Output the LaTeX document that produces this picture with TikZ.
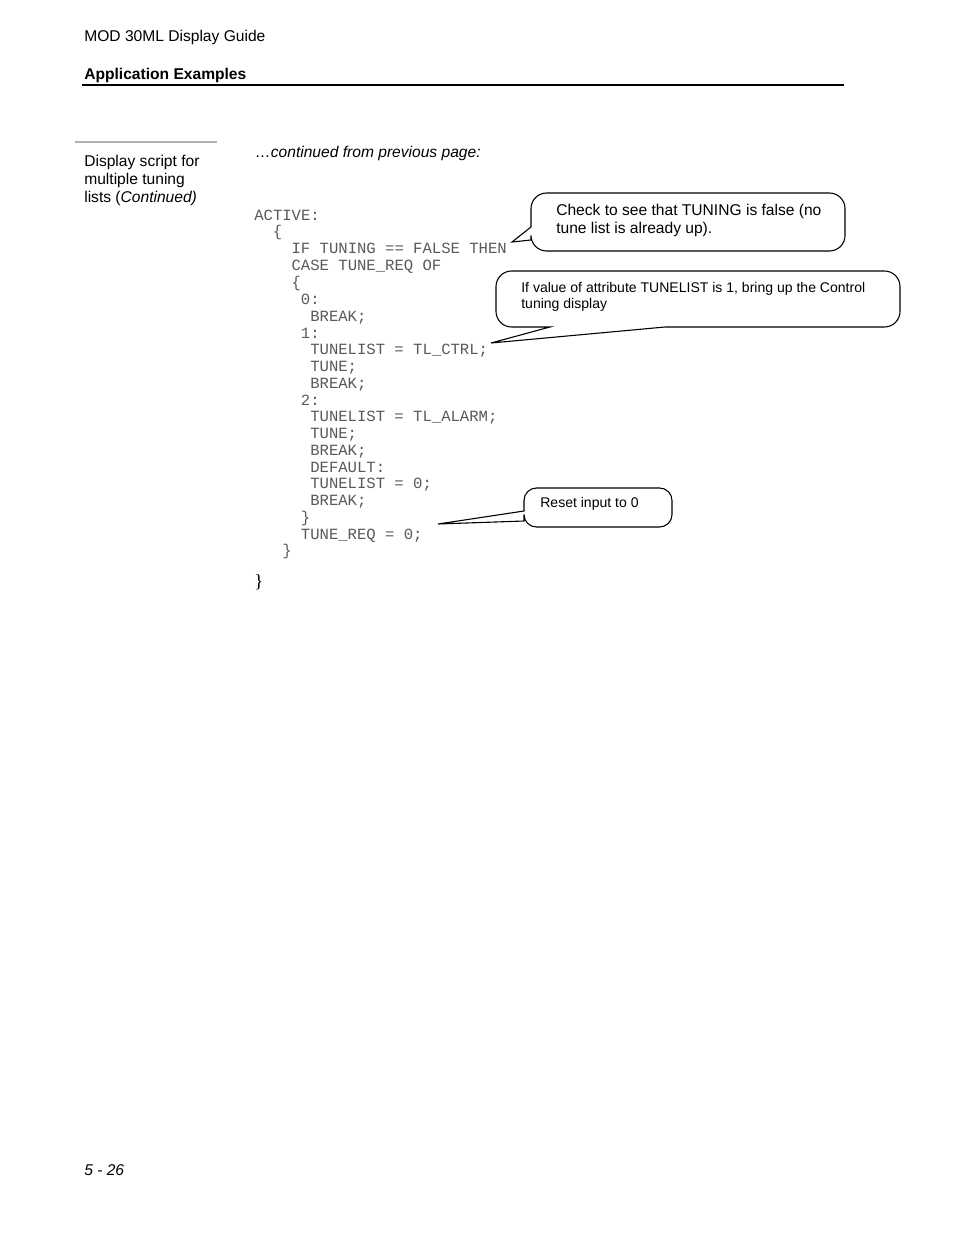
\documentclass[tikz,border=0pt]{standalone}
\usepackage{fontspec}
\setmainfont{Liberation Sans}
\newfontfamily\codefont{Liberation Mono}
\newfontfamily\serifont{Liberation Serif}
\begin{document}
\begin{tikzpicture}[x=0.64144pt,y=-0.64144pt,
  txt/.style={anchor=base west,inner sep=0pt,font=\fontsize{10}{12}\selectfont},
  small/.style={anchor=base west,inner sep=0pt,font=\fontsize{9}{11}\selectfont},
  code/.style={anchor=base west,inner sep=0pt,font=\codefont\fontsize{10}{12}\selectfont,text=black!65},
  callout/.style={draw=black,line width=0.7pt,fill=white}]
\useasboundingbox (0,0) rectangle (954,1235);
% header
\node[txt] (title) at (84,42) {MOD 30ML Display Guide};
\node[txt,font=\bfseries\fontsize{10}{12}\selectfont] (section) at (84,79) {Application Examples};
\coordinate (ruleL) at (82,85);
\coordinate (ruleR) at (844,85);
\draw[line width=1.3pt] (ruleL) -- (ruleR);
\coordinate (grayL) at (75,142);
\coordinate (grayR) at (217,142);
\draw[line width=1.2pt,black!30] (grayL) -- (grayR);
% side text
\node[txt] (side1) at (84,166) {Display script for};
\node[txt] (side2) at (84,184) {multiple tuning};
\node[txt] (side3) at (84,202) {lists (\textit{Continued)}};
\node[txt,font=\itshape\fontsize{10}{12}\selectfont] (cont) at (255,157) {…continued from previous page:};
% code
\foreach \i/\ind/\yy/\t in {
  1/0/220/{ACTIVE:},
  2/2/236.5/{\{},
  3/4/253.5/{IF TUNING == FALSE THEN},
  4/4/270.5/{CASE TUNE\_REQ OF},
  5/4/287/{\{},
  6/5/304/{0:},
  7/6/321/{BREAK;},
  8/5/338/{1:},
  9/6/354.5/{TUNELIST = TL\_CTRL;},
  10/6/371.5/{TUNE;},
  11/6/388.5/{BREAK;},
  12/5/405/{2:},
  13/6/421.5/{TUNELIST = TL\_ALARM;},
  14/6/438.5/{TUNE;},
  15/6/455.5/{BREAK;},
  16/6/472/{DEFAULT:},
  17/6/488.5/{TUNELIST = 0;},
  18/6/505.5/{BREAK;},
  19/5/522/{\}},
  20/5/539/{TUNE\_REQ = 0;},
  21/3/555.5/{\}}}
  \node[code] (c\i) at ({254+9.33*\ind},\yy) {\t};
\node[anchor=base west,inner sep=0pt,font=\serifont\fontsize{12}{14}\selectfont] (endbrace) at (254,587) {\}};
% callout 1
\coordinate (tip1) at (512,242);
\draw[callout,rounded corners=10] (690,193) -- (845,193) -- (845,251) -- (531,251)
  [sharp corners] -- (531,240) -- (tip1) -- (531,227) [rounded corners=10] -- (531,193) -- cycle;
\node[txt] (n1a) at (556,215) {Check to see that TUNING is false (no};
\node[txt] (n1b) at (556,233) {tune list is already up).};
% callout 2
\coordinate (tip2) at (491,343);
\draw[callout,rounded corners=10] (700,271) -- (900,271) -- (900,327)
  [sharp corners] -- (665,327) -- (tip2) -- (550,327) [rounded corners=10] -- (496,327) -- (496,271) -- cycle;
\node[small] (n2a) at (521,292) {If value of attribute TUNELIST is 1, bring up the Control};
\node[small] (n2b) at (521,308) {tuning display};
% callout 3
\coordinate (tip3) at (438,524);
\draw[callout,rounded corners=8] (600,488) -- (672,488) -- (672,527) -- (524,527)
  [sharp corners] -- (524,521) -- (tip3) -- (524,511) [rounded corners=8] -- (524,488) -- cycle;
\node[small] (n3) at (540,507) {Reset input to 0};
% footer
\node[txt,font=\itshape\fontsize{10}{12}\selectfont] (page) at (84,1175) {5 - 26};
\end{tikzpicture}
\end{document}
